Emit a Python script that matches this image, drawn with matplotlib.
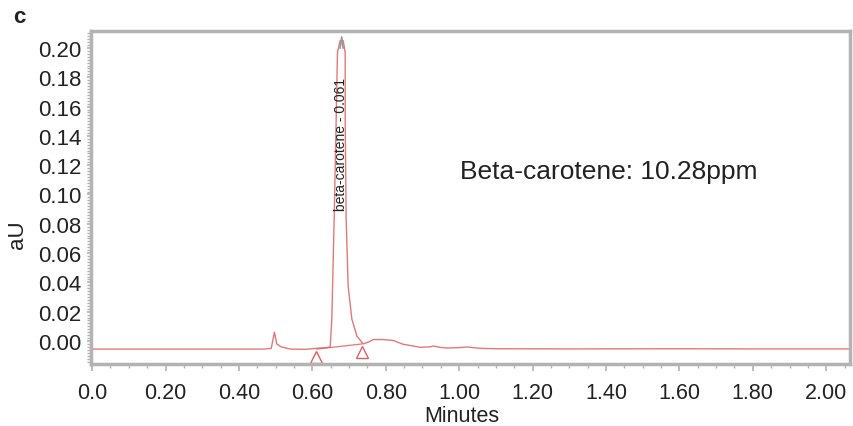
import numpy as np
import matplotlib.pyplot as plt
from matplotlib.ticker import MultipleLocator, FixedLocator

plt.rcParams['font.family'] = ['Liberation Sans', 'DejaVu Sans']

# chromatogram trace (minutes, aU)
t = [0.0, 0.30, 0.47, 0.488, 0.4967, 0.503, 0.515, 0.54, 0.58, 0.62, 0.640,
     0.6485, 0.653, 0.6594, 0.6649, 0.6684, 0.6757, 0.6839, 0.6894, 0.6894,
     0.6921, 0.6975, 0.7076, 0.7213, 0.7384, 0.755, 0.766, 0.79, 0.82,
     0.847, 0.894, 0.921, 0.929, 0.95, 0.967, 1.0, 1.022, 1.057, 1.10,
     1.30, 1.60, 1.80, 2.065]
v = [-0.0055, -0.0055, -0.0055, -0.0050, 0.0060, -0.0020, -0.0040, -0.0055,
     -0.0057, -0.0048, -0.0045,
     -0.0040, 0.015, 0.0833, 0.1515, 0.197, 0.2050, 0.2050, 0.197, 0.1515,
     0.0833, 0.0375, 0.015, 0.0034, -0.0020, -0.0005, 0.0010, 0.0010, 0.0004,
     -0.0022, -0.0043, -0.0040, -0.0034, -0.0044, -0.0048, -0.0045, -0.0041,
     -0.0050, -0.0053, -0.0054, -0.0053, -0.0054, -0.0054]

# grey clipped tip of the main peak
tip_t = [0.6757, 0.6800, 0.6839]
tip_v = [0.2000, 0.2075, 0.2000]

# integration baseline and its start/end markers
base_t = [0.612, 0.735]
base_v = [-0.0055, -0.0020]
mark_t = [0.6104, 0.7357]
mark_v = [-0.0108, -0.0078]

peak_label = 'beta-carotene - 0.061'
peak_pos = (0.678, 0.135)
result_text = 'Beta-carotene: 10.28ppm'
result_pos = (1.408, 0.116)

xticks = [0.0, 0.2, 0.4, 0.6, 0.8, 1.0, 1.2, 1.4, 1.6, 1.8, 2.0]
xticklabels = ['0.0', '0.20', '0.40', '0.60', '0.80', '1.00', '1.20', '1.40', '1.60', '1.80', '2.00']
yticks = [0.0, 0.02, 0.04, 0.06, 0.08, 0.10, 0.12, 0.14, 0.16, 0.18, 0.20]

red = '#e06060'
frame = '#b3b3b3'
txt = '#222222'

fig = plt.figure(figsize=(8.54, 4.27), dpi=100)
ax = fig.add_axes([0.1066, 0.1452, 0.8888, 0.7799])

ax.plot(t, v, color=red, lw=1.0, alpha=0.85)
ax.plot(tip_t, tip_v, color='#9a9a9a', lw=1.2)
ax.plot(base_t, base_v, color=red, lw=0.9, alpha=0.85)
ax.plot(mark_t, mark_v, ls='none', marker='^', ms=8, mfc='none', mec=red, mew=1.0)

ax.text(peak_pos[0], peak_pos[1], peak_label, rotation=90, ha='center', va='center',
        fontsize=10, color=txt)
ax.text(result_pos[0], result_pos[1], result_text, ha='center', va='center',
        fontsize=19, color=txt)

ax.set_xlim(-0.003, 2.065)
ax.set_ylim(-0.0157, 0.2116)

ax.xaxis.set_major_locator(FixedLocator(xticks))
ax.set_xticklabels(xticklabels)
ax.xaxis.set_minor_locator(MultipleLocator(0.05))
ax.set_yticks(yticks)
ax.set_yticklabels(['%.2f' % y for y in yticks])
ax.yaxis.set_minor_locator(MultipleLocator(0.002))

ax.tick_params(axis='both', which='both', direction='out', color=frame,
               labelsize=16, labelcolor=txt)
ax.tick_params(axis='x', which='major', length=5, width=1.2, pad=8, labelsize=15.5)
ax.tick_params(axis='x', which='minor', length=3, width=1.0)
ax.tick_params(axis='y', which='major', length=3, width=1.2, pad=4)
ax.tick_params(axis='y', which='minor', length=3, width=1.0)

for s in ax.spines.values():
    s.set_color(frame)
    s.set_linewidth(2.5)

fig.text(0.541, 0.024, 'Minutes', ha='center', va='center', fontsize=15.5, color=txt)
fig.text(0.021, 0.45, 'aU', ha='center', va='center', rotation=90, fontsize=16, color=txt)
fig.text(0.023, 0.958, 'c', ha='center', va='center', fontsize=16, fontweight='bold', color=txt)

fig.savefig('out.png', dpi=100)
